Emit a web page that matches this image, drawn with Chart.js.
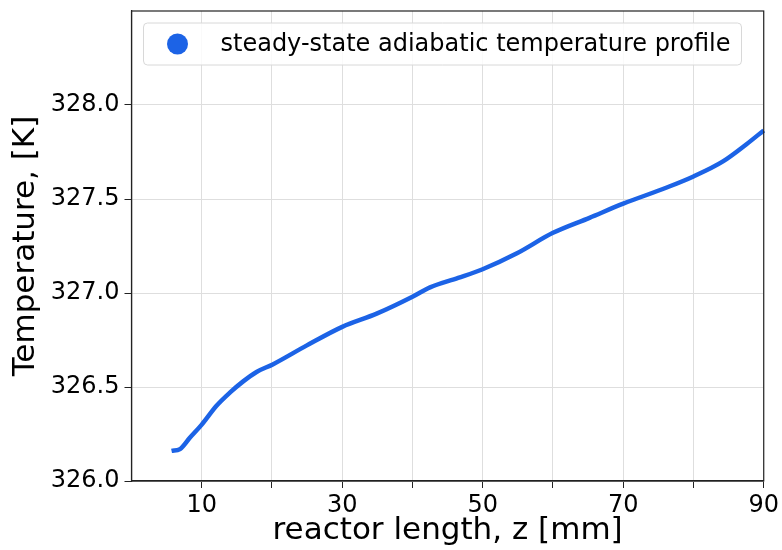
<!DOCTYPE html>
<html>
<head>
<meta charset="utf-8">
<script src="https://cdn.jsdelivr.net/npm/chart.js@4"></script>
<style>
  html, body { margin: 0; padding: 0; background: #fff; }
  canvas { display: block; }
</style>
</head>
<body>
<canvas id="tempChart" width="782" height="550"></canvas>
<script>
// reactor position [mm] and temperature [K]
const zPositions = [5.7, 6.9, 8.3, 10.0, 12.1, 14.0, 15.9, 17.8, 20.1, 24.9, 30.0, 34.9, 40.0, 42.5, 46.5, 49.9, 54.8, 60.0, 65.2, 70.0, 76.1, 80.0, 84.2, 87.5, 90.0];
const temperatures = [326.16, 326.17, 326.23, 326.30, 326.40, 326.47, 326.53, 326.58, 326.62, 326.72, 326.82, 326.89, 326.98, 327.03, 327.08, 327.125, 327.21, 327.32, 327.40, 327.475, 327.56, 327.62, 327.70, 327.79, 327.865];

// axis ticks
const xTicks = [10, 20, 30, 40, 50, 60, 70, 80, 90];
const xTickLabels = [10, 30, 50, 70, 90];
const yTicks = [326.0, 326.5, 327.0, 327.5, 328.0];

const seriesLabel = 'steady-state adiabatic temperature profile';
const lineColor = '#1c63e6';
const fontFamily = '"DejaVu Sans", sans-serif';

Chart.defaults.font.family = fontFamily;
Chart.defaults.color = '#000';

// рамка вокруг области графика
const framePlugin = {
    id: 'frame',
    afterDatasetsDraw(chart) {
        const { ctx, chartArea: a } = chart;
        ctx.save();
        ctx.strokeStyle = '#222';
        ctx.lineWidth = 1.2;
        ctx.strokeRect(a.left, a.top, a.right - a.left, a.bottom - a.top);
        ctx.restore();
    }
};

// легенда внутри области, как в matplotlib
const insideLegend = {
    id: 'insideLegend',
    afterDraw(chart) {
        const { ctx, chartArea: a } = chart;
        const ds = chart.data.datasets[0];
        const x = a.left + 12, y = a.top + 12, w = 598, h = 42;
        ctx.save();
        ctx.beginPath();
        ctx.roundRect(x, y, w, h, 4);
        ctx.fillStyle = 'rgba(255,255,255,0.85)';
        ctx.fill();
        ctx.strokeStyle = '#d8d8d8';
        ctx.lineWidth = 1;
        ctx.stroke();
        ctx.beginPath();
        ctx.arc(x + 34, y + h / 2, 10.5, 0, Math.PI * 2);
        ctx.fillStyle = ds.borderColor;
        ctx.fill();
        ctx.fillStyle = '#000';
        ctx.font = '24px ' + fontFamily;
        ctx.textBaseline = 'middle';
        ctx.fillText(ds.label, x + 77, y + h / 2 + 1);
        ctx.restore();
    }
};

const ctx = document.getElementById('tempChart').getContext('2d');

const tempChart = new Chart(ctx, {
    type: 'scatter',
    data: {
        datasets: [{
            label: seriesLabel,
            data: zPositions.map((z, i) => ({ x: z, y: temperatures[i] })),
            showLine: true,
            borderColor: lineColor,
            backgroundColor: lineColor,
            borderWidth: 4.5,
            pointRadius: 0,
            cubicInterpolationMode: 'monotone',
            clip: 3
        }]
    },
    options: {
        responsive: false,
        animation: false,
        devicePixelRatio: 1,
        layout: { padding: { top: 11, right: 18, left: 0, bottom: 0 } },
        plugins: {
            legend: { display: false },
            tooltip: { enabled: false }
        },
        scales: {
            x: {
                type: 'linear',
                min: 0,
                max: 90,
                afterBuildTicks: s => { s.ticks = xTicks.map(v => ({ value: v })); },
                afterFit: s => { s.height = 69; },
                ticks: {
                    autoSkip: false,
                    maxRotation: 0,
                    padding: 3,
                    font: { size: 24 },
                    color: '#000',
                    callback: v => xTickLabels.includes(v) ? String(v) : ''
                },
                grid: { color: '#dedede', tickColor: '#222', tickLength: 7, lineWidth: 1 },
                border: { color: '#222', width: 1.2 },
                title: {
                    display: true,
                    text: 'reactor length, z [mm]',
                    font: { size: 31 },
                    color: '#000',
                    padding: { top: 0, bottom: 0 }
                }
            },
            y: {
                type: 'linear',
                min: 326,
                max: 328.5,
                afterBuildTicks: s => { s.ticks = yTicks.map(v => ({ value: v })); },
                afterFit: s => { s.width = 131.5; s.paddingTop = 0; s.paddingBottom = 0; },
                ticks: {
                    padding: 5,
                    font: { size: 24 },
                    color: '#000',
                    callback: v => v.toFixed(1)
                },
                grid: { color: '#dedede', tickColor: '#222', tickLength: 7, lineWidth: 1 },
                border: { color: '#222', width: 1.2 },
                title: {
                    display: true,
                    text: 'Temperature, [K]',
                    font: { size: 31 },
                    color: '#000',
                    padding: { top: 7, bottom: 0 }
                }
            }
        }
    },
    plugins: [framePlugin, insideLegend]
});
</script>
</body>
</html>
